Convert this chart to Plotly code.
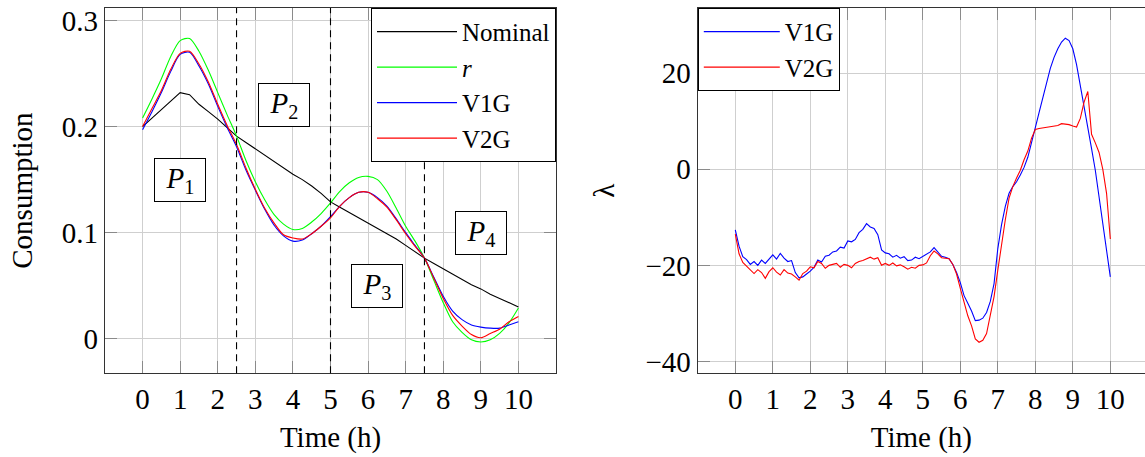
import plotly.graph_objects as go

# ---------------- data: left panel (consumption) ----------------
t_q = [i * 0.25 for i in range(41)]  # time grid, hours

nominal = [0.200, 0.208, 0.216, 0.224, 0.232, 0.230, 0.221, 0.214, 0.207, 0.199,
           0.191, 0.185, 0.179, 0.173, 0.167, 0.161, 0.155, 0.150, 0.144, 0.137,
           0.129, 0.124, 0.119, 0.114, 0.109, 0.104, 0.099, 0.094, 0.088, 0.082,
           0.076, 0.071, 0.066, 0.061, 0.056, 0.051, 0.047, 0.042, 0.038, 0.034, 0.030]

r_ref = [0.208, 0.226, 0.245, 0.266, 0.281, 0.283, 0.271, 0.253, 0.232, 0.211,
         0.191, 0.168, 0.148, 0.131, 0.117, 0.108, 0.103, 0.104, 0.110, 0.118,
         0.128, 0.139, 0.147, 0.152, 0.153, 0.150, 0.139, 0.123, 0.106, 0.092,
         0.076, 0.055, 0.034, 0.016, 0.006, -0.001, -0.003, -0.001, 0.005, 0.015, 0.029]

v1g = [0.197, 0.214, 0.232, 0.252, 0.268, 0.270, 0.257, 0.240, 0.219, 0.199,
       0.181, 0.159, 0.140, 0.122, 0.107, 0.097, 0.092, 0.093, 0.099, 0.106,
       0.115, 0.125, 0.133, 0.138, 0.138, 0.133, 0.125, 0.113, 0.100, 0.088,
       0.076, 0.058, 0.040, 0.026, 0.018, 0.013, 0.011, 0.010, 0.010, 0.013, 0.016]

v2g = [0.200, 0.217, 0.234, 0.254, 0.269, 0.271, 0.259, 0.242, 0.221, 0.201,
       0.183, 0.161, 0.141, 0.123, 0.109, 0.098, 0.095, 0.094, 0.099, 0.106,
       0.114, 0.125, 0.133, 0.138, 0.138, 0.132, 0.124, 0.112, 0.099, 0.087,
       0.076, 0.057, 0.038, 0.022, 0.012, 0.004, 0.001, 0.005, 0.009, 0.016, 0.021]

phase_bounds = [2.5, 5.0, 7.5]
phase_labels = ["<i>P</i><sub>1</sub>", "<i>P</i><sub>2</sub>",
                "<i>P</i><sub>3</sub>", "<i>P</i><sub>4</sub>"]
phase_label_x = [1.0, 3.75, 6.25, 9.0]
phase_label_y = [0.150, 0.220, 0.050, 0.100]

# ---------------- data: right panel (lambda) ----------------
t_d = [i * 0.1 for i in range(101)]

lam_v1g = [-12.6, -16.0, -18.2, -18.8, -19.8, -19.2, -20.0, -18.9, -19.6, -18.6,
           -17.8, -18.7, -17.5, -18.5, -19.2, -19.0, -21.5, -22.6, -22.4, -21.8,
           -21.2, -20.4, -18.9, -19.3, -18.1, -17.9, -17.2, -17.0, -16.2, -16.4,
           -14.9, -15.1, -14.6, -13.2, -12.5, -11.3, -12.0, -12.3, -13.6, -16.8,
           -17.4, -17.6, -18.3, -17.9, -18.5, -18.2, -19.0, -18.9, -18.3, -18.6,
           -18.1, -17.6, -17.2, -16.3, -17.1, -18.1, -18.3, -18.6, -19.8, -21.5,
           -23.6, -26.3, -27.9, -29.5, -31.5, -31.4, -31.0, -29.8, -27.5, -23.8,
           -16.5, -11.5, -7.7, -5.0, -3.6, -2.6, -1.2, 0.4, 2.5, 5.4,
           8.7, 11.8, 14.8, 18.0, 21.0, 23.3, 25.1, 26.5, 27.3, 26.8,
           25.1, 21.8, 17.6, 13.2, 8.7, 4.3, -0.2, -5.5, -11.0, -16.6, -22.4]

lam_v2g = [-13.5, -17.6, -19.4, -20.2, -20.8, -21.7, -20.9, -21.5, -22.7, -21.3,
           -20.5, -21.4, -22.0, -20.9, -21.6, -21.8, -22.4, -23.1, -21.7, -21.2,
           -20.3, -20.5, -19.2, -19.6, -20.6, -20.0, -19.8, -19.6, -20.4, -19.8,
           -20.0, -20.5, -19.6, -19.2, -19.0, -18.6, -18.3, -18.7, -18.4, -20.0,
           -19.6, -20.0, -19.5, -20.1, -19.9, -20.3, -20.8, -20.4, -20.6, -20.0,
           -19.9, -19.5, -18.0, -17.0, -17.6, -18.4, -18.5, -18.6, -19.8, -21.8,
           -24.8, -27.8, -30.5, -32.6, -35.3, -36.0, -35.6, -34.2, -30.5, -26.5,
           -21.0, -15.5, -10.5, -6.0, -3.6, -1.8, -0.2, 2.0, 3.8, 6.5,
           8.3, 8.5, 8.6, 8.8, 8.9, 9.0, 9.1, 9.5, 9.4, 9.3,
           9.0, 8.8, 10.6, 14.0, 16.2, 7.3, 5.5, 3.5, 0.0, -5.0, -14.5]

x_ticks = list(range(11))
left_y_ticks = [0, 0.1, 0.2, 0.3]
left_y_text = ["0", "0.1", "0.2", "0.3"]
right_y_ticks = [-40, -20, 0, 20]

# ---------------- styling ----------------
FONT = "Liberation Serif"
FS = 29
LFS = 25
GRID = "#cfcfcf"
FRAME = "#333333"
TICKC = "#8a8a8a"

fig = go.Figure()

left_series = [("Nominal", nominal, "#000000", "linear"),
               ("<i>r</i>", r_ref, "#00ff00", "spline"),
               ("V1G", v1g, "#0000ff", "spline"),
               ("V2G", v2g, "#ff0000", "spline")]
for name, vals, col, shape in left_series:
    fig.add_trace(go.Scatter(x=t_q, y=vals, mode="lines", name=name,
                             line=dict(color=col, width=1.1, shape=shape, smoothing=0.8),
                             xaxis="x", yaxis="y", legend="legend"))

for name, vals, col in [("V1G", lam_v1g, "#0000ff"), ("V2G", lam_v2g, "#ff0000")]:
    fig.add_trace(go.Scatter(x=t_d, y=vals, mode="lines", name=name,
                             line=dict(color=col, width=1.1),
                             xaxis="x2", yaxis="y2", legend="legend2"))

for xb in phase_bounds:
    fig.add_shape(type="line", xref="x", yref="y domain", x0=xb, x1=xb, y0=0, y1=1,
                  line=dict(color="#000000", width=1.1, dash="7px,5px"))

for lbl, lx, ly in zip(phase_labels, phase_label_x, phase_label_y):
    fig.add_annotation(x=lx, y=ly, xref="x", yref="y", text=lbl, showarrow=False,
                       font=dict(family=FONT, size=FS, color="#000"),
                       bgcolor="#ffffff", bordercolor="#000000", borderwidth=1,
                       borderpad=0, width=50, height=42)

ydom = [1 - 376 / 457, 1 - 5 / 457]
axis_common = dict(showgrid=True, gridcolor=GRID, gridwidth=1, zeroline=False,
                   showline=True, linecolor=FRAME, linewidth=1.3,
                   ticks="inside", ticklen=12, tickcolor=TICKC, tickwidth=1,
                   tickfont=dict(family=FONT, size=FS, color="#000"))

fig.update_layout(
    width=1145, height=457,
    margin=dict(l=0, r=0, t=0, b=0),
    paper_bgcolor="#ffffff", plot_bgcolor="#ffffff",
    showlegend=True,
    font=dict(family=FONT, size=FS, color="#000"),
    xaxis=dict(domain=[105 / 1145, 556 / 1145], range=[-1, 11], tickvals=x_ticks,
               mirror="ticks", anchor="y",
               title=dict(text="Time (h)", font=dict(family=FONT, size=FS), standoff=12),
               **axis_common),
    yaxis=dict(domain=ydom, range=[-0.0325, 0.3118], tickvals=left_y_ticks,
               ticktext=left_y_text, mirror="ticks", anchor="x",
               title=dict(text="Consumption", font=dict(family=FONT, size=FS), standoff=20),
               **axis_common),
    xaxis2=dict(domain=[697.8 / 1145, 1.0], range=[-1, 10.925], tickvals=x_ticks,
                mirror="ticks", anchor="y2",
                title=dict(text="Time (h)", font=dict(family=FONT, size=FS), standoff=12),
                **axis_common),
    yaxis2=dict(domain=ydom, range=[-42.46, 33.6], tickvals=right_y_ticks,
                mirror=False, anchor="x2",
                title=dict(text="λ", font=dict(family=FONT, size=FS), standoff=22),
                **axis_common),
    legend=dict(x=556 / 1145, y=ydom[1], xanchor="right", yanchor="top",
                bgcolor="#ffffff", bordercolor="#000000", borderwidth=1,
                font=dict(family=FONT, size=LFS, color="#000"),
                tracegroupgap=0, itemwidth=80),
    legend2=dict(x=697.8 / 1145, y=ydom[1], xanchor="left", yanchor="top",
                 bgcolor="#ffffff", bordercolor="#000000", borderwidth=1,
                 font=dict(family=FONT, size=LFS, color="#000"),
                 tracegroupgap=0, itemwidth=76),
)

fig.write_html("out.html", config={"displayModeBar": False},
               post_script="document.body.style.margin='0';document.body.style.overflow='hidden';")
